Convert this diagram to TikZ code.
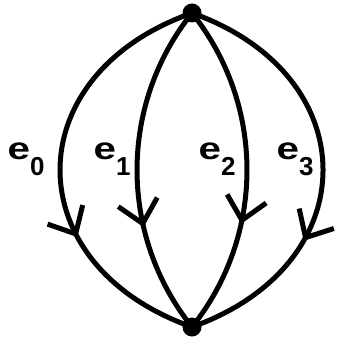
\documentclass[tikz,border=0pt]{standalone}
\usepackage{fontspec}
\setmainfont{Liberation Sans}
\usetikzlibrary{arrows.meta,decorations.markings}
\tikzset{
  vert/.style={circle,fill=black,inner sep=0pt,minimum size=19pt},
  edge/.style={line width=5pt,line cap=round,postaction={decorate},
    decoration={markings,mark=at position #1 with {\arrow{Straight Barb[length=22pt,width=40pt,line width=5pt]}}}},
  lab/.style={inner sep=0pt,anchor=base west,font=\bfseries\fontsize{31}{31}\selectfont},
}
\newcommand{\lbe}[1]{\scalebox{1.3}[1]{e}\raisebox{-16pt}{\fontsize{26}{26}\selectfont #1}}
\begin{document}
\begin{tikzpicture}[x=1pt,y=-1pt]
\useasboundingbox (0,0) rectangle (339,344);
\node[vert] (t) at (192,13) {};
\node[vert] (b) at (192,327) {};
\draw[edge=0.66] (t.center) .. controls (16,75) and (16,265) .. (b.center);
\draw[edge=0.67] (t.center) .. controls (118.7,104.8) and (118.7,235.2) .. (b.center);
\draw[edge=0.66] (t.center) .. controls (265.3,104.8) and (265.3,235.2) .. (b.center);
\draw[edge=0.67] (t.center) .. controls (366.7,75) and (366.7,265) .. (b.center);
\node[lab] (l0) at (7.5,160) {\lbe{0}};
\node[lab] (l1) at (93.5,160) {\lbe{1}};
\node[lab] (l2) at (198.5,160) {\lbe{2}};
\node[lab] (l3) at (276.5,160) {\lbe{3}};
\end{tikzpicture}
\end{document}
